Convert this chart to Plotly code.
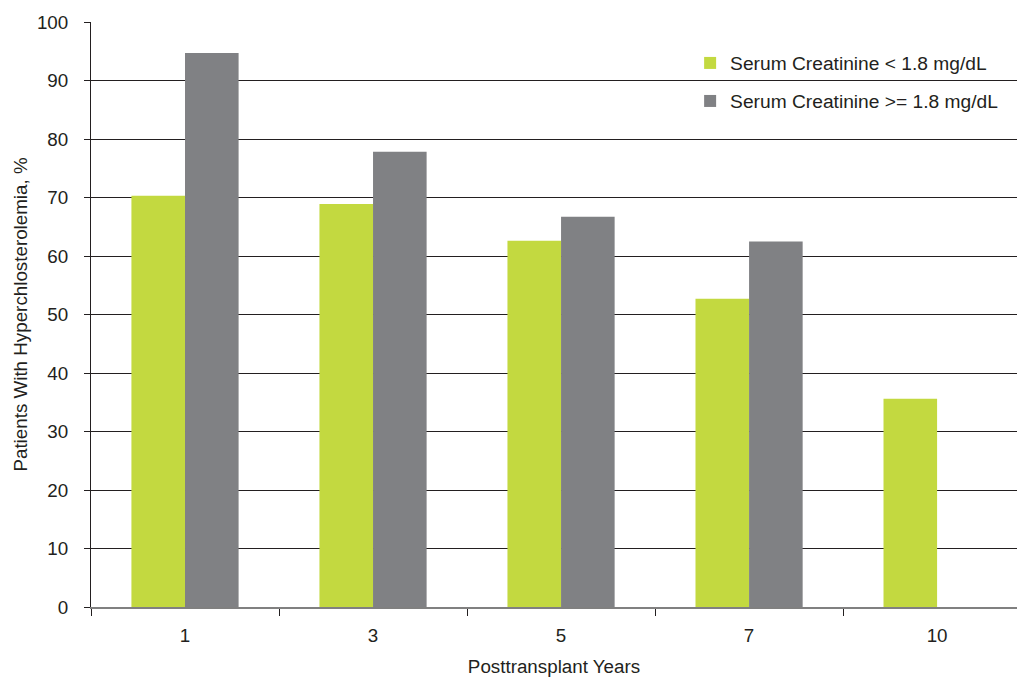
import plotly.graph_objects as go

years = ["1", "3", "5", "7", "10"]
low_cr = [70.3, 68.9, 62.6, 52.7, 35.6]
high_cr = [94.7, 77.8, 66.7, 62.5, None]
names = ["Serum Creatinine < 1.8 mg/dL", "Serum Creatinine >= 1.8 mg/dL"]
colors = ["#c3d940", "#808184"]

fig = go.Figure()
fig.add_trace(go.Bar(x=years, y=low_cr, name=names[0], legend="legend",
                     marker=dict(color=colors[0], line=dict(width=0))))
fig.add_trace(go.Bar(x=years, y=high_cr, name=names[1], legend="legend2",
                     marker=dict(color=colors[1], line=dict(width=0))))

font = "Liberation Sans, Arial, sans-serif"
leg_common = dict(x=0.647, xanchor="left", yanchor="middle",
                  bgcolor="rgba(0,0,0,0)", font=dict(size=19.2), itemwidth=30)
fig.update_layout(
    width=1017, height=677,
    margin=dict(l=91, r=0, t=22, b=70),
    paper_bgcolor="white", plot_bgcolor="white",
    barmode="group", bargap=0.43, bargroupgap=0,
    font=dict(family=font, size=18.8, color="#231f20"),
    showlegend=True,
    legend=dict(y=0.930, **leg_common),
    legend2=dict(y=0.865, **leg_common),
    xaxis=dict(type="category", range=[-0.5, 4.425], tickson="boundaries",
               ticks="outside", ticklen=7, tickcolor="#231f20",
               ticklabelstandoff=10,
               showline=True, linecolor="#808080", linewidth=2,
               showgrid=False, zeroline=False,
               title=dict(text="Posttransplant Years", font=dict(size=18.8), standoff=17)),
    yaxis=dict(range=[0, 100], dtick=10, ticks="outside", ticklen=6, tickcolor="#231f20",
               ticklabelstandoff=12,
               showline=True, linecolor="#231f20", linewidth=1,
               showgrid=True, gridcolor="#231f20", gridwidth=1, zeroline=False,
               title=dict(text="Patients With Hyperchlosterolemia, %", font=dict(size=18.8), standoff=4)),
)
fig.write_html("out.html")
